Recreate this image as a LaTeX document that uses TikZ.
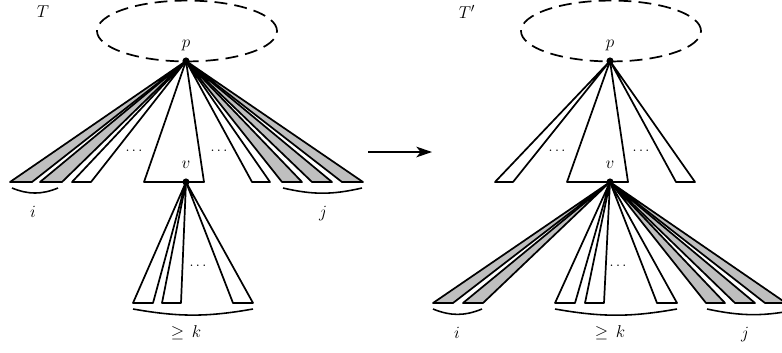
\documentclass[tikz,border=0pt]{standalone}
\usetikzlibrary{arrows.meta}
\begin{document}
\begin{tikzpicture}[x=0.7pt,y=-0.7pt, line width=1.2pt, line join=round,
  font=\fontsize{12.5}{15}\selectfont,
  wt/.style={draw=black,fill=white},
  gt/.style={draw=black,fill=black!25},
  dotn/.style={circle,fill=black,inner sep=0pt,minimum size=5pt},
  lbl/.style={inner sep=0pt},
  dts/.style={inner sep=0pt,font=\fontsize{10}{12}\selectfont},
  ell/.style={draw, dash pattern=on 9pt off 5pt},
  brace/.style={draw, line width=1.1pt}]
\useasboundingbox (0,0) rectangle (782,352);

% ---------------- left tree T ----------------
\node[lbl] (T) at (43,12) {$T$};
\draw[ell] (187,31) ellipse [x radius=63pt, y radius=21.3pt];
\coordinate (pL) at (186,61);
\coordinate (vL) at (186,182);
\foreach \a/\b/\s in {10/32/gt, 40/62/gt, 72/91/wt, 144/204/wt, 252/270/wt, 282/302/gt, 312/332/gt, 342/363/gt}
  \path[\s] (pL) -- (\a,182) -- (\b,182) -- cycle;
\node[lbl] (pLl) at (186,45) {$p$};
\node[lbl] (vLl) at (186,165) {$v$};
\node[dts] (dL1) at (134,151) {$\dots$};
\node[dts] (dL2) at (219,151) {$\dots$};
\foreach \a/\b in {133/153, 162/181, 233/253}
  \path[wt] (vL) -- (\a,303) -- (\b,303) -- cycle;
\node[dts] (dL3) at (198,266) {$\dots$};
\node[dotn] (pLd) at (pL) {};
\node[dotn] (vLd) at (vL) {};
\coordinate (bi1) at (12,188); \coordinate (bi2) at (58,188);
\draw[brace] (bi1) to[bend right=22] (bi2);
\node[lbl] (iL) at (33,212) {$i$};
\coordinate (bj1) at (283,188); \coordinate (bj2) at (362,188);
\draw[brace] (bj1) to[bend right=13] (bj2);
\node[lbl] (jL) at (323,214) {$j$};
\coordinate (bk1) at (133,309); \coordinate (bk2) at (253,309);
\draw[brace] (bk1) to[bend right=10] (bk2);
\node[lbl] (kL) at (186,333) {$\geq\, k$};

% ---------------- arrow ----------------
\coordinate (a1) at (368,152); \coordinate (a2) at (432,152);
\draw[-{Stealth[length=11pt,width=7.5pt,inset=3pt]}] (a1) -- (a2);

% ---------------- right tree T' ----------------
\node[lbl] (Tp) at (467,12) {$T'$};
\draw[ell] (611,31) ellipse [x radius=63pt, y radius=21.3pt];
\coordinate (pR) at (610,61);
\coordinate (vR) at (610,182);
\foreach \a/\b/\s in {495/513/wt, 567/628/wt, 676/695/wt}
  \path[\s] (pR) -- (\a,182) -- (\b,182) -- cycle;
\node[lbl] (pRl) at (610,45) {$p$};
\node[lbl] (vRl) at (610,165) {$v$};
\node[dts] (dR1) at (557,151) {$\dots$};
\node[dts] (dR2) at (641,151) {$\dots$};
\foreach \a/\b/\s in {433/453/gt, 463/483/gt, 555/575/wt, 585/604/wt, 657/677/wt, 706/725/gt, 735/755/gt, 765/786/gt}
  \path[\s] (vR) -- (\a,303) -- (\b,303) -- cycle;
\node[dts] (dR3) at (618,266) {$\dots$};
\node[dotn] (pRd) at (pR) {};
\node[dotn] (vRd) at (vR) {};
\coordinate (ci1) at (433,309); \coordinate (ci2) at (482,309);
\draw[brace] (ci1) to[bend right=22] (ci2);
\node[lbl] (iR) at (457,333) {$i$};
\coordinate (ck1) at (555,309); \coordinate (ck2) at (677,309);
\draw[brace] (ck1) to[bend right=10] (ck2);
\node[lbl] (kR) at (610,333) {$\geq\, k$};
\coordinate (cj1) at (707,309); \coordinate (cj2) at (800,309);
\draw[brace] (cj1) to[bend right=12] (cj2);
\node[lbl] (jR) at (745,335) {$j$};
\end{tikzpicture}
\end{document}
